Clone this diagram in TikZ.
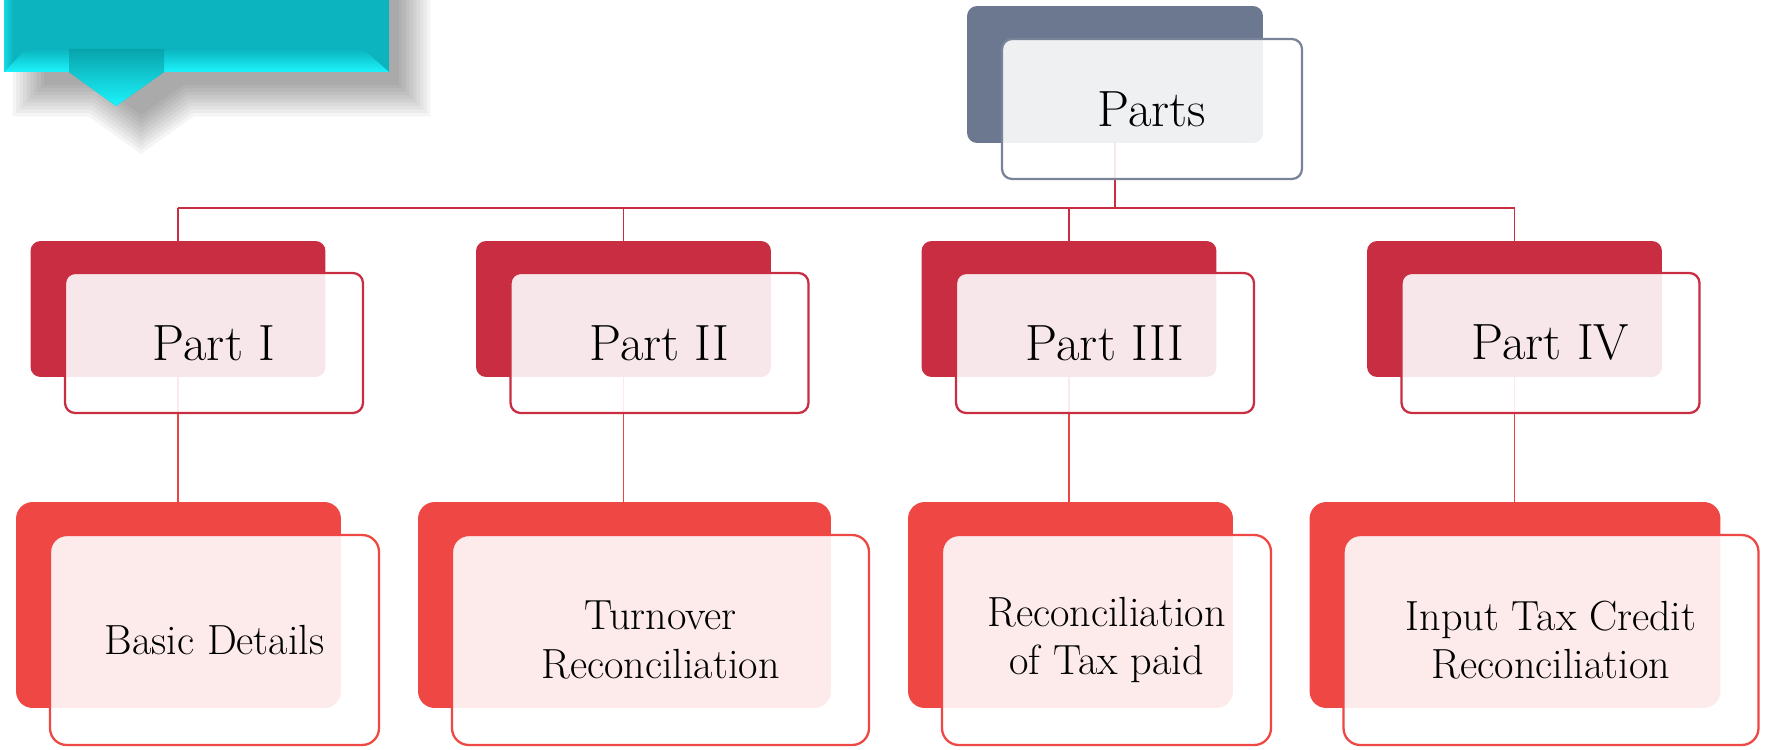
\documentclass[tikz,border=0pt]{standalone}
\usetikzlibrary{positioning,calc,backgrounds}
\definecolor{slate}{HTML}{6B788F}
\definecolor{slateline}{HTML}{7A8499}
\definecolor{crimson}{HTML}{C82D42}
\definecolor{coral}{HTML}{EF4743}
\definecolor{calloutteal}{HTML}{0BB4BE}
\definecolor{calloutdark}{HTML}{08A3AC}
\definecolor{calloutcyan}{HTML}{1CF4FC}
\begin{document}
\begin{tikzpicture}[x=0.02cm, y=-0.02cm, line join=round, line cap=round,
	back/.style={rectangle, rounded corners=5.7pt, inner sep=0pt},
	front/.style={rectangle, rounded corners=5.7pt, inner sep=0pt, fill=white, fill opacity=0.89, text opacity=1, line width=1.3pt, align=center},
	toptext/.style={font=\fontsize{29}{34}\selectfont},
	lowtext/.style={font=\fontsize{24}{27.5}\selectfont},
	link/.style={line width=1.1pt}]
	\useasboundingbox (0,0) rectangle (1767,750);
	
	% callout in the corner, soft shadow first
	\foreach \w in {2,6,...,38} {
		\begin{scope}[transparency group, opacity=0.038]
			\filldraw[black, line width=\w pt] (46,-30) -- (397,-30) -- (397,83) -- (183.5,83) -- (141,113) -- (99.5,83) -- (46,83) -- cycle;
		\end{scope}
	}
	\fill[calloutteal] (4,-2) -- (389,-2) -- (389,72) -- (164,72) -- (116,106) -- (69,72) -- (4,72) -- cycle;
	\shade[top color=calloutteal, bottom color=calloutcyan] (4,72) -- (26,49) -- (69,49) -- (69,72) -- cycle;
	\shade[top color=calloutteal, bottom color=calloutcyan] (164,72) -- (164,49) -- (363,49) -- (389,72) -- cycle;
	\shade[top color=calloutdark, bottom color=calloutcyan] (69,49) -- (164,49) -- (164,72) -- (116,106) -- (69,72) -- cycle;
	\shade[left color=calloutcyan!60!calloutteal, right color=calloutteal] (4,-2) -- (13,-2) -- (13,62) -- (4,72) -- cycle;
	
	% top box
	\node[back, fill=slate, minimum width=5.92cm, minimum height=2.74cm] (pb) at (1115,74.5) {};
	\node[front, draw=slateline, toptext, minimum width=6cm, minimum height=2.8cm] (pf) at (1152,109) {Parts};
	
	% parts
	\foreach \i/\t in {1/Part I, 2/Part II, 3/Part III, 4/Part IV} {
		\node[back, fill=crimson, minimum width=5.9cm, minimum height=2.72cm] (b\i) at ({178+445.5*(\i-1)},309) {};
		\node[front, draw=crimson, toptext, minimum width=5.96cm, minimum height=2.8cm] (f\i) at ({214+445.5*(\i-1)},343) {\t};
	}
	
	% details
	\foreach \i/\x/\w/\t in {1/178.5/6.5/Basic Details, 2/624.5/8.26/Turnover\\Reconciliation, 3/1070.5/6.5/Reconciliation\\of Tax paid, 4/1515/8.22/Input Tax Credit\\Reconciliation} {
		\node[back, fill=coral, rounded corners=9.5pt, minimum width=\w cm, minimum height=4.12cm] (c\i) at (\x,605) {};
		\node[front, draw=coral, rounded corners=9.5pt, lowtext, minimum width=\w cm+0.08cm, minimum height=4.2cm] (d\i) at (\x+36,640) {\t};
	}
	
	% connectors
	\begin{scope}[on background layer]
		\coordinate (bus) at (0,208);
		\draw[link, crimson] (pb.south) -- (pb.south |- bus);
		\draw[link, crimson] (b1.north |- bus) -- (b4.north |- bus);
		\foreach \i in {1,...,4} {
			\draw[link, crimson] (b\i.north |- bus) -- (b\i.north);
			\draw[link, coral!85!crimson] (b\i.south) -- (b\i.south |- c\i.north);
		}
	\end{scope}
\end{tikzpicture}
\end{document}
